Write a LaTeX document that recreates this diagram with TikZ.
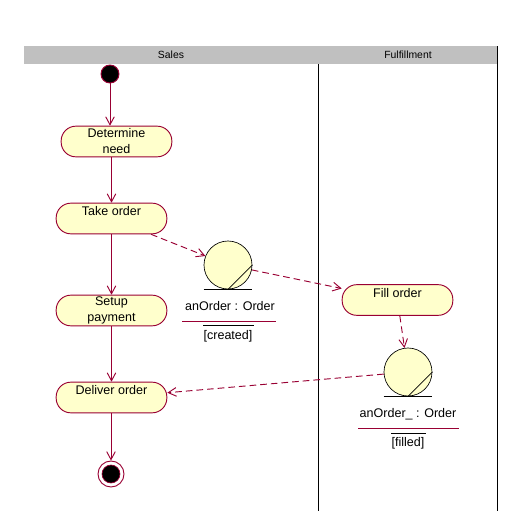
\documentclass[tikz,border=0pt]{standalone}
\usepackage{fontspec}
\setmainfont{Liberation Sans}
\usetikzlibrary{shapes, positioning, arrows.meta, calc}

\definecolor{umlred}{RGB}{153,0,51}
\definecolor{umlyellow}{RGB}{255,255,204}
\definecolor{lanegray}{RGB}{192,192,192}

\begin{document}
\begin{tikzpicture}[
    x=0.75pt, y=-0.75pt,
    >={Straight Barb[length=6pt, width=6.5pt]},
    every node/.style={font=\fontsize{9.4}{12}\selectfont},
    flow/.style={->, umlred, line width=0.7pt},
    objflow/.style={->, umlred, line width=0.7pt, dash pattern=on 5pt off 3pt},
    activity/.style={draw=umlred, fill=umlyellow, line width=0.7pt, rectangle, rounded corners=11pt,
        minimum width=83pt, minimum height=23pt, align=center, inner sep=1pt},
    onerow/.style={activity, text height=6.5pt, text depth=10.5pt},
    object/.style={circle, draw=black, fill=umlyellow, line width=0.5pt, minimum size=36pt, inner sep=0pt},
    lanetitle/.style={font=\fontsize{7.8}{9}\selectfont, inner sep=0pt}
]
    \useasboundingbox (0,0) rectangle (522,511);

    % Swimlanes
    \fill[lanegray] (24,46) rectangle (497,64);
    \node[lanetitle] (sales) at (171,55) {Sales};
    \node[lanetitle] (fulfil) at (408,55) {Fulfillment};
    \draw[line width=0.75pt] (318,64) -- (318,511);
    \draw[line width=0.75pt] (497,46) -- (497,511);

    % Start and end states
    \node[circle, draw=umlred, fill=black, line width=0.7pt, minimum size=13.5pt, inner sep=0pt] (start) at (110,74) {};
    \node[circle, draw=umlred, fill=white, line width=0.7pt, minimum size=19.5pt, inner sep=0pt] (finish) at (111,474) {};
    \fill[black, draw=umlred, line width=0.5pt] (finish) circle (9);

    % Activities
    \node[activity] (need) at (116.5,141.5) {Determine\\need};
    \node[onerow] (take) at (111.5,218.5) {Take order};
    \node[activity] (setup) at (111.5,310.5) {Setup\\payment};
    \node[onerow] (deliver) at (111.5,397.5) {Deliver order};
    \node[onerow] (fill) at (397.5,300) {Fill order};

    % Objects
    \node[object] (created) at (228,265) {};
    \draw[line width=0.5pt] (created.south -| created.west) -- (created.south -| created.east);
    \draw[line width=0.5pt] (created.south) -- (created.east);
    \node (createdname) at (230,306) {anOrder : Order};
    \draw[umlred, line width=0.7pt] (182,321) -- (276,321);
    \draw[line width=0.5pt] (203,325) -- (254,325);
    \node (createdstate) at (228,336) {[created]};

    \node[object] (filled) at (408,372) {};
    \draw[line width=0.5pt] (filled.south -| filled.west) -- (filled.south -| filled.east);
    \draw[line width=0.5pt] (filled.south) -- (filled.east);
    \node (filledname) at (408,414) {anOrder\_ : Order};
    \draw[umlred, line width=0.7pt] (358,428) -- (459,428);
    \draw[line width=0.5pt] (391,433) -- (426,433);
    \node (filledstate) at (408,443) {[filled]};

    % Control flow
    \draw[flow] (start) -- (start |- need.north);
    \draw[flow] (take |- need.south) -- (take.north);
    \draw[flow] (take) -- (setup);
    \draw[flow] (setup) -- (deliver);
    \draw[flow] (finish |- deliver.south) -- (finish);

    % Object flow
    \draw[objflow] (take) -- (created);
    \draw[objflow] (created) -- (fill);
    \draw[objflow] (fill) -- (filled);
    \draw[objflow] (filled) -- (deliver);

\end{tikzpicture}
\end{document}
